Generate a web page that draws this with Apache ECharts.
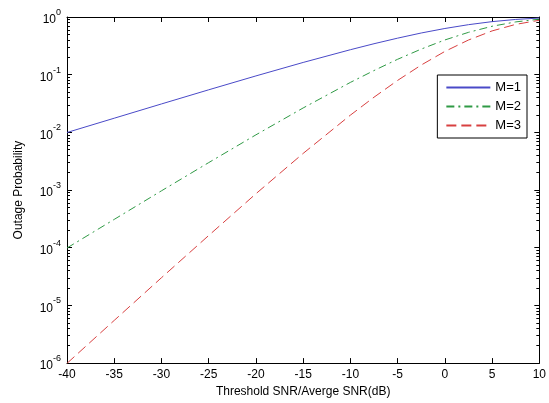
<!DOCTYPE html>
<html><head><meta charset="utf-8">
<script src="https://cdn.jsdelivr.net/npm/echarts@6/dist/echarts.min.js"></script>
<style>html,body{margin:0;padding:0;background:#fff}#c{width:549px;height:403px}</style>
</head><body><div id="c"></div>
<script>
const snrDb = [-40,-35,-30,-25,-20,-15,-10,-7.5,-5,-2.5,0,2.5,5,7.5,10];
const m1 = [0.00995,0.0176,0.0311,0.0547,0.0952,0.163,0.271,0.344,0.430,0.528,0.632,0.736,0.831,0.907,0.958];
const m2 = [0.000099,0.00031,0.00097,0.00299,0.00906,0.0265,0.0735,0.118,0.185,0.278,0.400,0.542,0.691,0.822,0.917];
const m3 = [0.00000099,0.0000055,0.0000302,0.000163,0.000863,0.00432,0.0199,0.0407,0.0796,0.147,0.253,0.399,0.574,0.745,0.878];
const xTicks = [-40,-35,-30,-25,-20,-15,-10,-5,0,5,10];
const names = ['M=1','M=2','M=3'];
const font = 'Liberation Sans, Arial, Helvetica, sans-serif';
const pair = a => snrDb.map((x,i)=>[x,a[i]]);
const chart = echarts.init(document.getElementById('c'));
const supFmt = v => { const e = Math.round(Math.log10(v)); return '{b|10}{s|' + e + '}'; };
const rich = {b:{fontSize:12,fontFamily:font,color:'#000',padding:[6,0,0,0]}, s:{fontSize:9,fontFamily:font,color:'#000',verticalAlign:'top',padding:[0,0,6,0]}};
const axLine = {show:true,onZero:false,lineStyle:{color:'#000',width:1}};
const tick = {show:true,inside:true,length:5,lineStyle:{color:'#000'}};
const minor = {show:true,splitNumber:9,length:3,lineStyle:{color:'#000'}};
chart.setOption({
  animation:false,
  backgroundColor:'#fff',
  grid:{left:67,right:9,top:17,bottom:36,containLabel:false},
  legend:{
    data:names, orient:'vertical', right:22, top:75,
    backgroundColor:'#fff', borderColor:'#000', borderWidth:1, borderRadius:0,
    padding:[6,6,6,8], itemGap:6, itemWidth:44, itemHeight:10,
    itemStyle:{opacity:0},
    textStyle:{fontSize:13,fontFamily:font,color:'#000'}
  },
  xAxis:[
    {type:'value',min:-40,max:10,interval:5,position:'bottom',
     axisLine:axLine,axisTick:tick,splitLine:{show:false},
     axisLabel:{fontSize:12,fontFamily:font,color:'#000',margin:6},
     name:'Threshold SNR/Averge SNR(dB)',nameLocation:'middle',nameGap:20,
     nameTextStyle:{fontSize:12,fontFamily:font,color:'#000'}},
    {type:'value',min:-40,max:10,interval:5,position:'top',
     axisLine:axLine,axisTick:tick,splitLine:{show:false},axisLabel:{show:false}}
  ],
  yAxis:[
    {type:'log',logBase:10,min:1e-6,max:1,position:'left',
     axisLine:axLine,axisTick:tick,minorTick:minor,splitLine:{show:false},
     axisLabel:{formatter:supFmt,rich:rich,margin:6},
     name:'Outage Probability',nameLocation:'middle',nameGap:42,
     nameTextStyle:{fontSize:12,fontFamily:font,color:'#000'}},
    {type:'log',logBase:10,min:1e-6,max:1,position:'right',
     axisLine:axLine,axisTick:tick,minorTick:minor,splitLine:{show:false},axisLabel:{show:false}}
  ],
  series:[
    {name:names[0],type:'line',data:pair(m1),symbol:'none',smooth:false,
     lineStyle:{color:'#4a4ac8',width:1,type:'solid'},itemStyle:{color:'#4a4ac8'}},
    {name:names[1],type:'line',data:pair(m2),symbol:'none',
     lineStyle:{color:'#2f9a45',width:1,type:[8,4,2,4]},itemStyle:{color:'#2f9a45'}},
    {name:names[2],type:'line',data:pair(m3),symbol:'none',
     lineStyle:{color:'#d84040',width:1,type:[10,5]},itemStyle:{color:'#d84040'}}
  ]
});
</script></body></html>
